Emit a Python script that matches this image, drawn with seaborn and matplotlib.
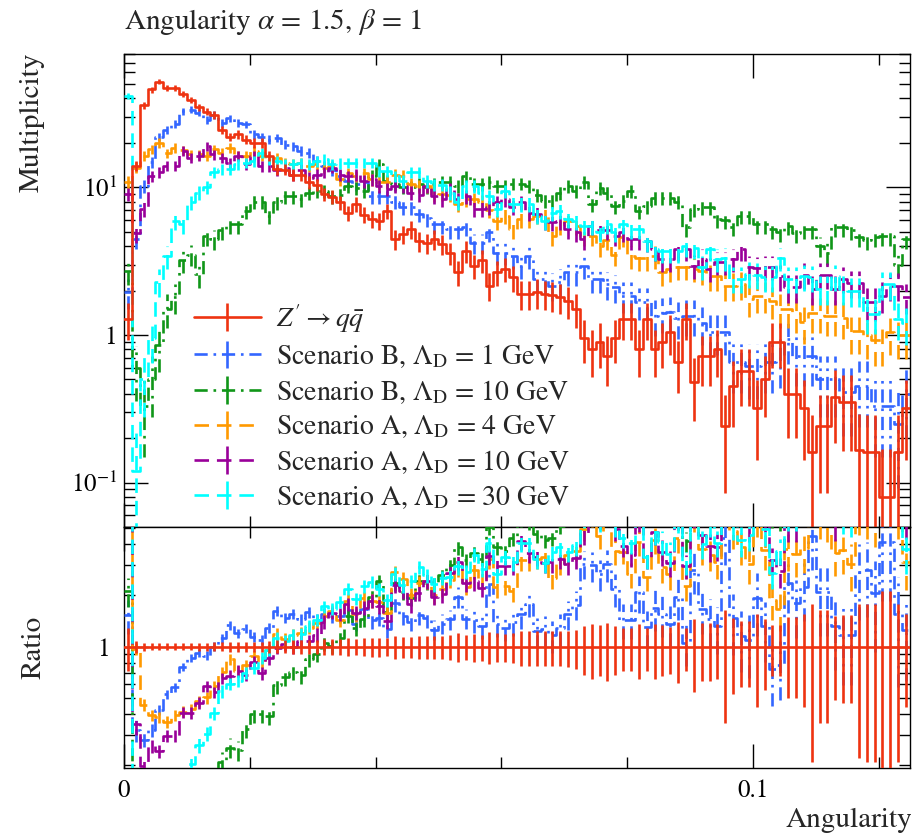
import numpy as np
import matplotlib
matplotlib.use("Agg")
import matplotlib.pyplot as plt
import seaborn as sns
import pandas as pd
from matplotlib.ticker import FixedLocator, FixedFormatter, NullFormatter

# ---------------- data ----------------
x_min, x_max, n_bins = 0.0, 0.125, 100

labels = [r"$Z' \rightarrow q\bar{q}$",
          r"Scenario B, $\Lambda_{\mathrm{D}}$ = 1 GeV",
          r"Scenario B, $\Lambda_{\mathrm{D}}$ = 10 GeV",
          r"Scenario A, $\Lambda_{\mathrm{D}}$ = 4 GeV",
          r"Scenario A, $\Lambda_{\mathrm{D}}$ = 10 GeV",
          r"Scenario A, $\Lambda_{\mathrm{D}}$ = 30 GeV"]

zprime = [1.28, 14, 36, 46, 52, 47, 47, 43, 39, 35,
          32.5, 31, 24.4, 22, 22.8, 21, 20, 20, 16.3, 13.3,
          13.2, 12.2, 12.2, 10.8, 10.4, 9.0, 8.6, 7.9, 6.7, 7.7,
          6.5, 6.1, 5.9, 6.9, 4.45, 4.8, 5.2, 4.3, 4.2, 4.45,
          4.1, 3.6, 2.65, 3.7, 2.94, 3.2, 2.15, 2.65, 2.8, 2.45,
          1.9, 1.9, 1.95, 1.9, 1.85, 1.8, 1.7, 1.5, 0.96, 0.80,
          0.9, 0.72, 0.96, 1.28, 1.28, 0.8, 1.28, 0.8, 0.9, 1.05,
          0.66, 1.28, 0.48, 0.72, 0.72, 0.8, 0.24, 0.45, 0.57, 0.57,
          0.32, 0.5, 0.9, 0.9, 0.40, 0.40, 0.32, 0.16, 0.24, 0.24,
          0.38, 0.35, 0.35, 0.165, 0.16, 0.16, 0.08, 0.08, 0.16, 0.32]

scen_b_1 = [1.95, 4.5, 10.2, 14.8, 22, 24.6, 27, 32.7, 33.6, 32,
            28.7, 31, 27.4, 29.3, 27.4, 26.7, 22.8, 21.8, 21, 21.6,
            19.5, 19.0, 17.6, 17.2, 15, 14, 13, 12, 11, 10.5,
            10.8, 8.7, 8.7, 8.7, 8.0, 7.3, 7.3, 6.6, 6.2, 5.6,
            5.6, 5.2, 5.2, 5.4, 4.2, 4.2, 5.0, 3.6, 3.6, 3.4,
            2.94, 3.4, 2.4, 2.4, 2.15, 2.3, 2.65, 2.65, 2.94, 2.4,
            2.4, 2.2, 2.1, 1.84, 1.84, 1.67, 1.67, 1.35, 1.4, 1.43,
            1.3, 1.35, 1.35, 1.2, 1.05, 1.05, 1.05, 0.66, 0.66, 0.62,
            0.62, 0.66, 0.66, 0.7, 0.94, 0.72, 0.72, 0.72, 0.5, 0.5,
            0.5, 0.41, 0.41, 0.45, 0.45, 0.33, 0.33, 0.33, 0.25, 0.4]

scen_b_10 = [2.7, 0.6, 0.33, 0.5, 0.85, 1.5, 1.8, 3.2, 3.5, 2.6,
             4.7, 4.45, 5.1, 5.6, 5.6, 6.9, 8.0, 8.0, 6.4, 7.9,
             8.7, 8.7, 8.3, 9.1, 9.4, 9.4, 8.7, 8.9, 10.2, 9.9,
             9.4, 12, 14.3, 11, 10.5, 10, 10, 10.5, 10, 10.5,
             10.8, 10.8, 10.2, 11.9, 10.5, 10.5, 10.8, 10.2, 10.2, 10.6,
             10.6, 10.2, 8.9, 8.1, 8.1, 9.2, 10.2, 9.4, 10.8, 7.7,
             9.9, 9.2, 7.5, 8.1, 9.4, 6.9, 7.5, 8.5, 8.5, 8.5,
             8.0, 5.35, 7.1, 7.3, 7.3, 6.1, 6.0, 5.4, 6.4, 6.4,
             5.6, 5.6, 5.2, 5.0, 5.5, 4.9, 5.2, 5.2, 4.0, 3.6,
             5.35, 5.35, 5.1, 4.6, 4.4, 4.6, 4.7, 4.7, 3.0, 4.5]

scen_a_4 = [10.8, 13.6, 16.3, 18.1, 20, 17, 18.5, 17.8, 16.7, 16.7,
            16.3, 18.1, 17.2, 18.5, 16.3, 16.3, 17.6, 16.3, 15.5, 15.8,
            14.7, 14.3, 14.7, 13.9, 14.3, 13.6, 13.9, 11.3, 12.5, 11.9,
            12.5, 11.3, 10.8, 10.8, 12.2, 12.0, 10.5, 10.2, 10.2, 8.9,
            9.0, 8.9, 7.7, 8.3, 8.3, 8.0, 7.0, 5.9, 6.4, 5.2,
            6.1, 6.1, 6.4, 6.4, 4.7, 5.5, 5.9, 5.5, 4.7, 4.7,
            4.0, 4.4, 3.5, 4.6, 3.4, 3.3, 3.3, 3.4, 2.65, 2.8,
            2.88, 2.9, 2.8, 2.7, 2.5, 2.5, 2.15, 2.15, 2.2, 1.75,
            1.84, 1.84, 1.7, 1.5, 1.5, 1.4, 1.22, 1.4, 1.4, 1.35,
            1.35, 1.3, 1.07, 1.07, 1.0, 0.92, 0.92, 1.05, 1.0, 1.0]

scen_a_10 = [9, 4.9, 7.1, 11.9, 12.6, 14, 14, 17.6, 15.9, 16.3,
             19.0, 16.7, 15.9, 14.7, 16.4, 14.3, 16.3, 13.9, 13.9, 13.1,
             13.6, 12.2, 13.2, 11.6, 12.2, 12.6, 13.6, 12.2, 11.9, 12.2,
             11.0, 11.3, 10.2, 9.7, 10.2, 10.2, 9.2, 8.9, 10.2, 8.7,
             8.3, 9.7, 8.3, 8.7, 7.1, 7.1, 7.3, 7.9, 8.3, 7.3,
             7.9, 6.75, 6.6, 5.9, 5.8, 5.9, 5.2, 5.0, 4.45, 5.5,
             5.1, 5.1, 4.7, 5.0, 4.45, 4.45, 4.3, 3.8, 3.26, 3.26,
             3.8, 3.8, 2.94, 3.26, 2.8, 3.1, 3.1, 3.26, 3.8, 2.9,
             2.85, 2.9, 2.9, 2.5, 2.1, 2.1, 2.55, 2.05, 2.55, 2.55,
             2.05, 2.4, 2.25, 2.25, 1.66, 1.66, 1.84, 2.15, 2.15, 1.8]

scen_a_30 = [41.6, 0.12, 0.5, 0.95, 2.3, 3.4, 5.9, 5.6, 7.9, 9.2,
             10.0, 12.6, 13.3, 13.3, 14.3, 14.7, 15.0, 17.2, 15.5, 15.0,
             14.3, 14.3, 14.5, 14.3, 15.0, 15.5, 14.3, 14.5, 14.7, 14.7,
             14.7, 14.7, 12.9, 12.9, 11.9, 11.0, 12.6, 12.6, 11.0, 10.4,
             10.4, 9.2, 7.9, 10.2, 10.2, 9.2, 8.7, 7.1, 9.4, 7.7,
             7.7, 7.7, 6.4, 5.9, 6.7, 6.9, 6.1, 5.9, 5.5, 5.5,
             4.95, 5.6, 4.95, 5.6, 5.2, 5.2, 4.3, 3.8, 3.7, 3.7,
             3.7, 4.0, 3.9, 2.9, 3.8, 3.26, 3.3, 2.4, 2.4, 2.6,
             2.55, 2.45, 2.45, 3.3, 2.4, 2.4, 2.5, 2.45, 2.05, 2.05,
             2.5, 2.05, 2.0, 2.0, 1.39, 1.39, 2.2, 2.2, 1.28, 1.2]

# effective event counts per unit of multiplicity (statistical errors ~ sqrt(N))
stat_scale = [10, 10, 10, 10, 10, 10]

series = [zprime, scen_b_1, scen_b_10, scen_a_4, scen_a_10, scen_a_30]

# ---------------- style ----------------
colors = ["#ee3311", "#3366ff", "#109618", "#ff9900", "#990099", "#00ffff"]
dash_dot = (0, (5, 2.2, 1, 2.2))
dashed = (0, (5.5, 3))
styles = ["-", dash_dot, dash_dot, dashed, dashed, dashed]
lw = 1.9

sns.set_theme(style="ticks")
plt.rcParams["font.family"] = ["STIXGeneral", "DejaVu Serif"]
plt.rcParams["mathtext.fontset"] = "stix"
plt.rcParams["axes.linewidth"] = 1.0
plt.rcParams["axes.edgecolor"] = "black"
plt.rcParams["xtick.color"] = "black"
plt.rcParams["ytick.color"] = "black"

edges = np.linspace(x_min, x_max, n_bins + 1)
centers = 0.5 * (edges[:-1] + edges[1:])

fig = plt.figure(figsize=(9.14, 8.35), dpi=100)
L, W = 124 / 914, 786 / 914
ax = fig.add_axes([L, 1 - 527 / 835, W, 473 / 835])
rax = fig.add_axes([L, 1 - 768 / 835, W, 241 / 835], sharex=ax)

ref = np.array(zprime, dtype=float)

order = [1, 2, 3, 4, 5, 0]
for k in order:
    vals = np.array(series[k], dtype=float)
    err = np.sqrt(vals / stat_scale[k])
    lo = np.minimum(err, vals - 1e-4)
    c, ls = colors[k], styles[k]
    z = 10 if k == 0 else 3 + k
    df = pd.DataFrame({"x": edges, "y": np.append(vals, vals[-1])})
    sns.lineplot(data=df, x="x", y="y", ax=ax, color=c, lw=lw, linestyle=ls,
                 drawstyle="steps-post", legend=False, errorbar=None, zorder=z)
    eb = ax.errorbar(centers, vals, yerr=[lo, err], fmt="none", ecolor=c,
                     elinewidth=lw, zorder=z)
    eb.lines[2][0].set_linestyle(ls)

    # ratio panel
    r = vals / ref
    rerr = err / ref
    rlo = np.minimum(rerr, r - 1e-4)
    dfr = pd.DataFrame({"x": edges, "y": np.append(r, r[-1])})
    sns.lineplot(data=dfr, x="x", y="y", ax=rax, color=c, lw=lw, linestyle=ls,
                 drawstyle="steps-post", legend=False, errorbar=None, zorder=z)
    ebr = rax.errorbar(centers, r, yerr=[rlo, rerr], fmt="none", ecolor=c,
                       elinewidth=lw, zorder=z)
    ebr.lines[2][0].set_linestyle(ls)

# legend proxies
handles = []
for k in range(6):
    h = ax.errorbar([-1.0], [1.0], yerr=[[0.5], [0.5]], color=colors[k],
                    linestyle=styles[k], lw=lw, elinewidth=lw)
    handles.append(h)
ax.legend(handles, labels, loc="upper left", bbox_to_anchor=(0.075, 0.5),
          frameon=False, fontsize=20, handlelength=2.4, handletextpad=0.55,
          labelspacing=0.28, borderaxespad=0)

# axes ranges / scales
ax.set_yscale("log")
ax.set_ylim(0.05, 80)
ax.set_xlim(x_min, x_max)
rax.set_yscale("log")
rax.set_ylim(0.193, 5.05)

for a in (ax, rax):
    a.set_xlabel("")
    a.set_ylabel("")
    a.xaxis.set_major_locator(FixedLocator([0.0, 0.1]))
    a.xaxis.set_minor_locator(FixedLocator([0.02, 0.04, 0.06, 0.08, 0.12]))
    a.tick_params(which="both", direction="in", top=True, right=True,
                  labelsize=18, width=1.0)
    a.tick_params(which="major", length=17)
    a.tick_params(which="minor", length=8)

ax.yaxis.set_major_locator(FixedLocator([0.1, 1, 10]))
ax.yaxis.set_major_formatter(FixedFormatter([r"10$^{-1}$", "1", r"10$^{1}$"]))
minors = [m * 10.0 ** e for e in (-2, -1, 0, 1) for m in range(2, 10)]
ax.yaxis.set_minor_locator(FixedLocator(minors))
ax.yaxis.set_minor_formatter(NullFormatter())
ax.tick_params(axis="x", labelbottom=False)
ax.tick_params(axis="y", pad=5)

rax.yaxis.set_major_locator(FixedLocator([1]))
rax.yaxis.set_major_formatter(FixedFormatter(["1"]))
rax.yaxis.set_minor_locator(FixedLocator([0.2, 0.3, 0.4, 0.5, 0.6, 0.7, 0.8, 0.9, 2, 3, 4, 5]))
rax.yaxis.set_minor_formatter(NullFormatter())
rax.xaxis.set_major_formatter(FixedFormatter(["0", "0.1"]))
rax.tick_params(axis="x", pad=8)
rax.tick_params(axis="y", pad=10)

# texts
fig.text(124 / 914, 1 - 22 / 835, r"Angularity $\alpha$ = 1.5, $\beta$ = 1",
         ha="left", va="center", fontsize=21)
fig.text(32 / 914, 1 - 53 / 835, "Multiplicity", rotation=90, ha="center",
         va="top", fontsize=21)
fig.text(34 / 914, 1 - 647 / 835, "Ratio", rotation=90, ha="center",
         va="center", fontsize=21)
fig.text(912 / 914, 1 - 820 / 835, "Angularity", ha="right", va="center",
         fontsize=21)

fig.savefig("out.png", dpi=100)
